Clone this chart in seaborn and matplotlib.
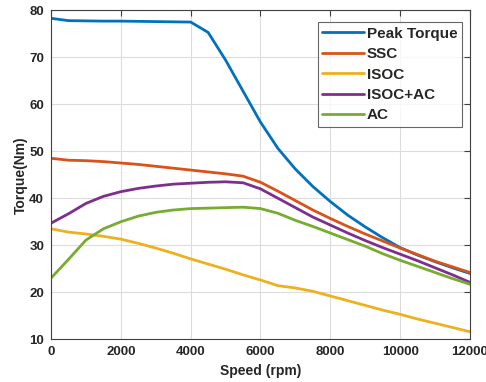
import pandas as pd
import matplotlib
matplotlib.use('Agg')
import matplotlib.pyplot as plt
import seaborn as sns

speed = [0, 500, 1000, 1500, 2000, 2500, 3000, 3500, 4000, 4500, 5000, 5500,
         6000, 6500, 7000, 7500, 8000, 8500, 9000, 9500, 10000, 10500, 11000, 11500, 12000]

peak_torque = [78.3, 77.8, 77.75, 77.7, 77.7, 77.65, 77.6, 77.55, 77.5, 75.3, 69.4, 62.8,
               56.2, 50.6, 46.2, 42.5, 39.3, 36.4, 33.9, 31.6, 29.5, 27.9, 26.5, 25.2, 24.0]
ssc = [48.5, 48.1, 48.0, 47.8, 47.5, 47.2, 46.8, 46.4, 46.0, 45.6, 45.2, 44.7,
       43.4, 41.5, 39.5, 37.5, 35.7, 34.0, 32.4, 30.9, 29.4, 28.0, 26.6, 25.4, 24.2]
isoc = [33.5, 32.8, 32.4, 31.9, 31.3, 30.4, 29.4, 28.3, 27.1, 26.0, 24.9, 23.7,
        22.6, 21.4, 20.9, 20.2, 19.2, 18.2, 17.2, 16.2, 15.3, 14.3, 13.4, 12.5, 11.6]
isoc_ac = [34.7, 36.7, 38.9, 40.4, 41.4, 42.1, 42.6, 43.0, 43.2, 43.4, 43.5, 43.3,
           42.0, 40.0, 38.0, 36.0, 34.3, 32.6, 31.0, 29.5, 28.1, 26.7, 25.2, 23.7, 22.1]
ac = [23.0, 27.0, 31.1, 33.5, 35.0, 36.2, 37.0, 37.5, 37.8, 37.9, 38.0, 38.1,
      37.8, 36.8, 35.3, 34.0, 32.6, 31.2, 29.8, 28.2, 26.8, 25.5, 24.2, 22.9, 21.7]

names = ['Peak Torque', 'SSC', 'ISOC', 'ISOC+AC', 'AC']
colors = ['#0072BD', '#D95319', '#EDB120', '#7E2F8E', '#77AC30']

df = pd.DataFrame({'speed': speed, 'Peak Torque': peak_torque, 'SSC': ssc,
                   'ISOC': isoc, 'ISOC+AC': isoc_ac, 'AC': ac})
df_long = df.melt(id_vars='speed', var_name='curve', value_name='torque')

sns.set_style('white')
plt.rcParams['font.family'] = ['Liberation Sans', 'DejaVu Sans']
plt.rcParams['font.weight'] = 'bold'

fig = plt.figure(figsize=(4.86, 3.82), dpi=100)
ax = fig.add_axes([0.105, 0.112, 0.862, 0.861])
sns.lineplot(data=df_long, x='speed', y='torque', hue='curve', hue_order=names,
             palette=colors, linewidth=2, ax=ax)

ax.set_xlim(0, 12000)
ax.set_ylim(10, 80)
ax.set_xticks(range(0, 12001, 2000))
ax.set_yticks(range(10, 81, 10))
ax.grid(True, color='#dcdcdc', linewidth=0.8)
ax.tick_params(direction='in', top=True, right=True, labelsize=9.5, length=4,
               color='#404040', labelcolor='#262626', pad=5)
for s in ax.spines.values():
    s.set_color('#404040')
    s.set_linewidth(0.8)
ax.set_xlabel('Speed (rpm)', fontsize=10, fontweight='bold', color='#262626', labelpad=4)
ax.set_ylabel('Torque(Nm)', fontsize=10, fontweight='bold', color='#262626', labelpad=1)

leg = ax.legend(loc='upper right', bbox_to_anchor=(0.981, 0.964), fontsize=11,
                frameon=True, fancybox=False, edgecolor='#404040', handlelength=2.7,
                handletextpad=0.2, labelspacing=0.42, borderpad=0.3, borderaxespad=0.0)
leg.get_frame().set_linewidth(0.8)
for t in leg.get_texts():
    t.set_fontweight('bold')

plt.savefig('out.png', dpi=100)
